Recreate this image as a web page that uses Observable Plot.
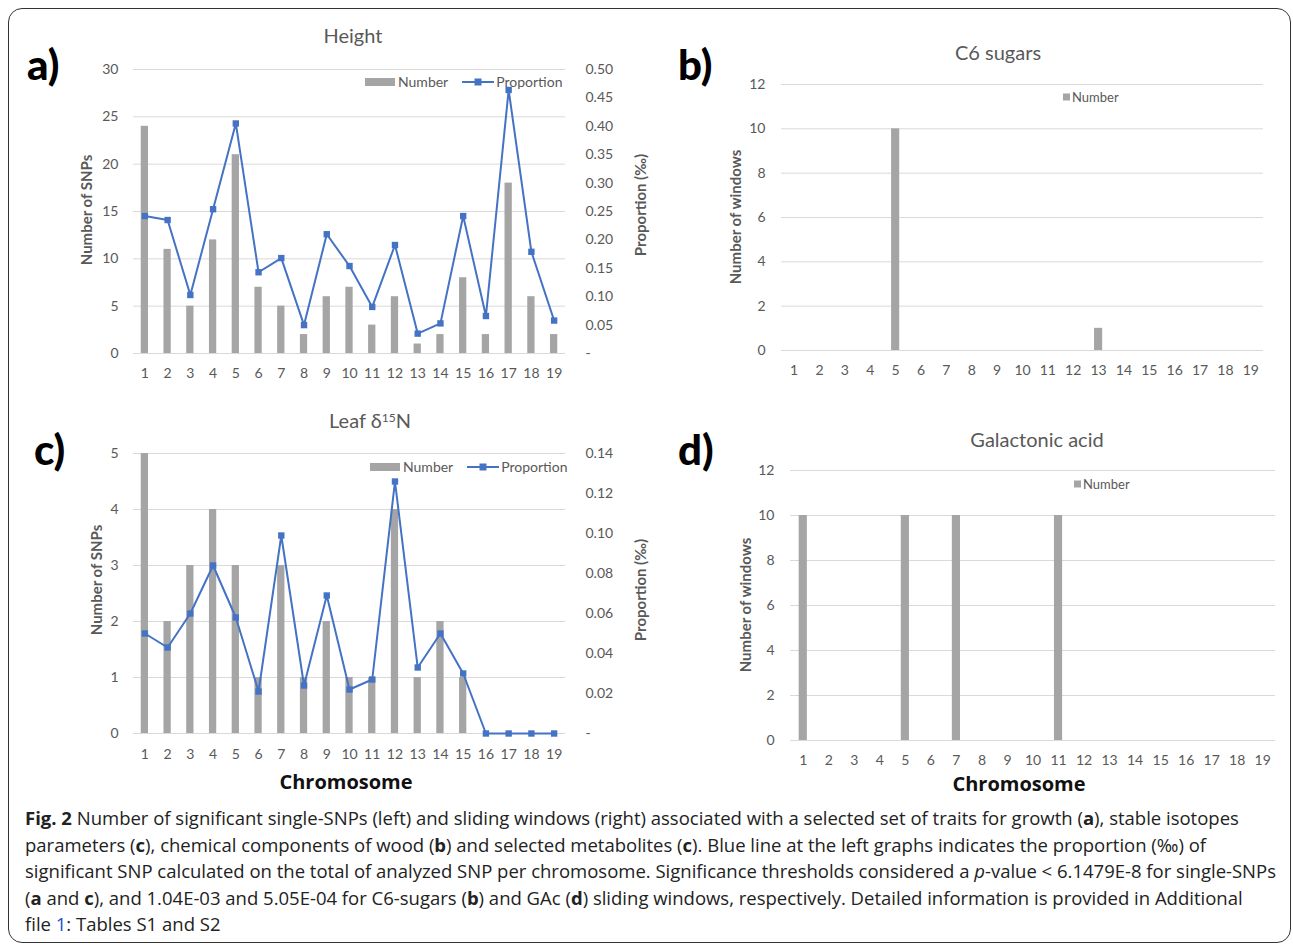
<!DOCTYPE html>
<html>
<head>
<meta charset="utf-8">
<script src="https://cdn.jsdelivr.net/npm/d3@7"></script>
<script src="https://cdn.jsdelivr.net/npm/@observablehq/plot@0.6"></script>
<style>
  html, body { margin: 0; padding: 0; background: #fff; }
  #page { position: relative; width: 1293px; height: 945px; overflow: hidden; background: #fff; }
  .abs { position: absolute; white-space: nowrap; }
  .letter { font-family: Lato, sans-serif; font-weight: 900; font-size: 42px; color: #000; line-height: 1; }
  .title { font-family: Lato, sans-serif; font-size: 20px; color: #595959; transform: translate(-50%, -50%); line-height: 1; }
  .ylab { font-family: Lato, sans-serif; font-weight: bold; font-size: 15px; color: #595959; transform: translate(-50%, -50%) rotate(-90deg); line-height: 1; }
  .xlab { font-family: "Open Sans", sans-serif; font-weight: bold; font-size: 20px; color: #111; transform: translate(-50%, -50%); line-height: 1; }
  .leg { font-family: Lato, sans-serif; font-size: 14px; color: #595959; line-height: 1; transform: translateY(-50%); display: flex; align-items: center; }
  .leg.small { font-size: 13px; }
  #border { position: absolute; left: 8px; top: 8px; width: 1283px; height: 935px; box-sizing: border-box; border: 1.5px solid #333; border-radius: 14px; }
  #caption { position: absolute; left: 25px; top: 805px; font-family: "Open Sans", sans-serif; font-size: 18.5px; line-height: 26.5px; color: #222; white-space: nowrap; }
  svg text { font-family: Lato, sans-serif; }
</style>
</head>
<body>
<div id="page">
  <div id="border"></div>
</div>
<script>
// ---------- data ----------
const chromosomes = [1, 2, 3, 4, 5, 6, 7, 8, 9, 10, 11, 12, 13, 14, 15, 16, 17, 18, 19];
const heightNumber = [24, 11, 5, 12, 21, 7, 5, 2, 6, 7, 3, 6, 1, 2, 8, 2, 18, 6, 2];
const heightProportion = [0.242, 0.235, 0.103, 0.254, 0.405, 0.143, 0.168, 0.050, 0.210, 0.154, 0.082, 0.191, 0.035, 0.053, 0.242, 0.066, 0.464, 0.179, 0.058];
const c6Number = [0, 0, 0, 0, 10, 0, 0, 0, 0, 0, 0, 0, 1, 0, 0, 0, 0, 0, 0];
const leafNumber = [5, 2, 3, 4, 3, 1, 3, 1, 2, 1, 1, 4, 1, 2, 1, 0, 0, 0, 0];
const leafProportion = [0.050, 0.043, 0.060, 0.084, 0.058, 0.021, 0.099, 0.024, 0.069, 0.022, 0.027, 0.126, 0.033, 0.050, 0.030, 0, 0, 0, 0];
const gacNumber = [10, 0, 0, 0, 10, 0, 10, 0, 0, 0, 10, 0, 0, 0, 0, 0, 0, 0, 0];

const heightCountTicks = [0, 5, 10, 15, 20, 25, 30];
const heightPropTicks = [0, 0.05, 0.10, 0.15, 0.20, 0.25, 0.30, 0.35, 0.40, 0.45, 0.50];
const windowTicks = [0, 2, 4, 6, 8, 10, 12];
const leafCountTicks = [0, 1, 2, 3, 4, 5];
const leafPropTicks = [0, 0.02, 0.04, 0.06, 0.08, 0.10, 0.12, 0.14];

const BAR = "#a5a5a5", BLUE = "#4472c4", GRID = "#d9d9d9", TXT = "#595959";

const page = document.getElementById("page");

function addDiv(cls, x, y, html) {
  const d = document.createElement("div");
  d.className = "abs " + cls;
  d.style.left = x + "px";
  d.style.top = y + "px";
  d.innerHTML = html;
  page.appendChild(d);
  return d;
}

function panel(o) {
  const rows = chromosomes.map((c, i) => ({chr: c, n: o.counts[i], p: o.props ? o.props[i] : null}));
  const yMax = o.countTicks[o.countTicks.length - 1];
  const marks = [
    Plot.gridY(o.countTicks, {stroke: GRID, strokeOpacity: 1, strokeWidth: 1}),
    Plot.barY(rows, {x: "chr", y: "n", fill: BAR}),
    Plot.axisY(o.countTicks, {tickSize: 0, tickPadding: o.tickPadLeft, label: null, fontSize: 14, tickFormat: d => String(d)}),
    Plot.axisX({tickSize: 0, tickPadding: o.tickPadBottom, label: null, fontSize: 14})
  ];
  if (o.props) {
    const factor = yMax / o.propTicks[o.propTicks.length - 1];
    const rightTicks = o.propTicks.map(p => p * factor);
    marks.push(
      Plot.line(rows, {x: "chr", y: d => d.p * factor, stroke: BLUE, strokeWidth: 2}),
      Plot.dot(rows, {x: "chr", y: d => d.p * factor, symbol: "square", r: 3.6, fill: BLUE, stroke: "none"}),
      Plot.axisY(rightTicks, {anchor: "right", tickSize: 0, tickPadding: 20, label: null, fontSize: 14,
        tickFormat: (d, i) => o.propTicks[i] === 0 ? "-" : o.propTicks[i].toFixed(2)})
    );
  }
  const svg = Plot.plot({
    width: o.width, height: o.height,
    marginLeft: o.ml, marginRight: o.mr, marginTop: o.mt, marginBottom: o.mb,
    x: {type: "band", domain: chromosomes, paddingInner: o.pad, paddingOuter: o.pad / 2, round: false},
    y: {domain: [0, yMax]},
    style: {fontFamily: "Lato, sans-serif", fontSize: "14px", color: TXT, background: "transparent", overflow: "visible"},
    marks
  });
  svg.style.position = "absolute";
  svg.style.left = o.left + "px";
  svg.style.top = o.top + "px";
  page.appendChild(svg);
}

// a) Height
panel({left: 0, top: 0, width: 660, height: 395, ml: 133, mr: 95, mt: 69, mb: 42,
  counts: heightNumber, props: heightProportion, countTicks: heightCountTicks, propTicks: heightPropTicks,
  pad: 0.68, tickPadLeft: 15, tickPadBottom: 15});
// b) C6 sugars
panel({left: 650, top: 0, width: 643, height: 395, ml: 131, mr: 30, mt: 84, mb: 45,
  counts: c6Number, countTicks: windowTicks, pad: 0.68, tickPadLeft: 16, tickPadBottom: 15});
// c) Leaf d15N
panel({left: 0, top: 400, width: 660, height: 395, ml: 133, mr: 95, mt: 53, mb: 62,
  counts: leafNumber, props: leafProportion, countTicks: leafCountTicks, propTicks: leafPropTicks,
  pad: 0.68, tickPadLeft: 15, tickPadBottom: 16});
// d) Galactonic acid
panel({left: 650, top: 400, width: 643, height: 395, ml: 140, mr: 18, mt: 70, mb: 55,
  counts: gacNumber, countTicks: windowTicks, pad: 0.68, tickPadLeft: 16, tickPadBottom: 15});

// panel letters
addDiv("letter", 27, 43, "a)");
addDiv("letter", 678, 43, "b)");
addDiv("letter", 34, 428, "c)");
addDiv("letter", 678, 428, "d)");

// titles
addDiv("title", 353, 35, "Height");
addDiv("title", 998, 52, "C6 sugars");
addDiv("title", 370, 420, "Leaf δ<sup style='font-size:12px;vertical-align:6px;line-height:0'>15</sup>N");
addDiv("title", 1037, 439, "Galactonic acid");

// axis titles
addDiv("ylab", 86, 210, "Number of SNPs");
addDiv("ylab", 640, 205, "Proportion (‰)");
addDiv("ylab", 735, 217, "Number of windows");
addDiv("ylab", 96, 580, "Number of SNPs");
addDiv("ylab", 640, 590, "Proportion (‰)");
addDiv("ylab", 745, 605, "Number of windows");
addDiv("xlab", 346, 782, "Chromosome");
addDiv("xlab", 1019, 784, "Chromosome");

// legends
const sw = `<span style="display:inline-block;width:30px;height:8px;background:${BAR};margin-right:3px"></span>`;
const ln = `<svg width="32" height="10" style="margin:0 2px 0 14px"><line x1="0" y1="5" x2="32" y2="5" stroke="${BLUE}" stroke-width="2"/><rect x="12.5" y="1.5" width="7" height="7" fill="${BLUE}"/></svg>`;
addDiv("leg", 365, 82, sw + "Number" + ln + "Proportion");
addDiv("leg", 370, 467, sw + "Number" + ln + "Proportion");
const sq = `<span style="display:inline-block;width:7px;height:7px;background:${BAR};margin-right:2px"></span>`;
addDiv("leg small", 1063, 97, sq + "Number");
addDiv("leg small", 1074, 484, sq + "Number");

// caption
const cap = document.createElement("div");
cap.id = "caption";
cap.innerHTML =
  "<b>Fig. 2</b> Number of significant single-SNPs (left) and sliding windows (right) associated with a selected set of traits for growth (<b>a</b>), stable isotopes<br>" +
  "parameters (<b>c</b>), chemical components of wood (<b>b</b>) and selected metabolites (<b>c</b>). Blue line at the left graphs indicates the proportion (‰) of<br>" +
  "significant SNP calculated on the total of analyzed SNP per chromosome. Significance thresholds considered a <i>p</i>-value &lt; 6.1479E-8 for single-SNPs<br>" +
  "(<b>a</b> and <b>c</b>), and 1.04E-03 and 5.05E-04 for C6-sugars (<b>b</b>) and GAc (<b>d</b>) sliding windows, respectively. Detailed information is provided in Additional<br>" +
  "file <span style='color:#1a4fd6'>1</span>: Tables S1 and S2";
page.appendChild(cap);
</script>
</body>
</html>
